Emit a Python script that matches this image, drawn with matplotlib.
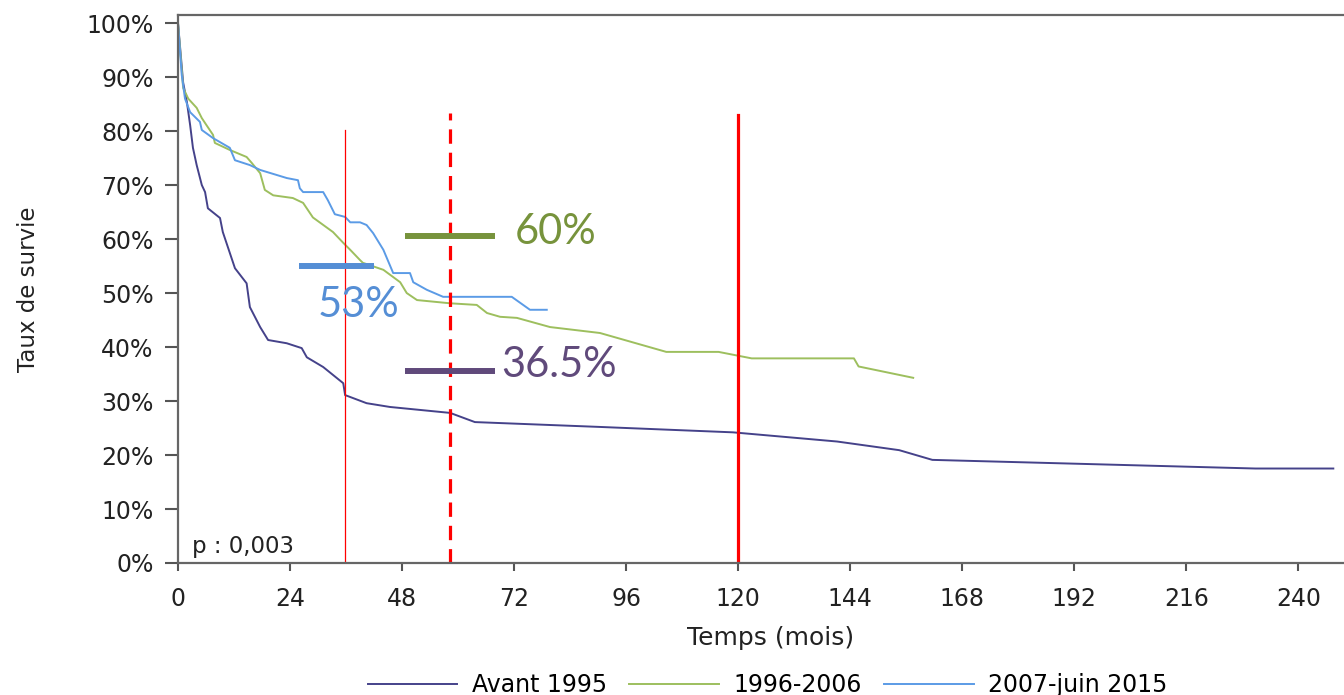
import matplotlib.pyplot as plt

# courbes de survie (mois, %)
avant_t = [0, 1.1, 1.9, 2.6, 3.2, 4.0, 5.1, 5.8, 6.4, 9.0, 9.6, 12.2, 14.7, 15.4, 17.6, 19.3,
           23.3, 26.5, 27.6, 31.1, 35.4, 35.8, 40.4, 45.4, 58.3, 63.6, 90.4, 118.9, 141.2,
           154.5, 161.6, 230.8, 247.5]
avant_s = [100, 89, 85.4, 81.1, 76.9, 73.7, 70, 68.7, 65.7, 63.9, 61.3, 54.6, 51.8, 47.4, 43.7,
           41.3, 40.7, 39.8, 38.1, 36.3, 33.3, 31.1, 29.6, 28.9, 27.8, 26.1, 25.2, 24.2, 22.5,
           20.9, 19.1, 17.5, 17.5]

mid_t = [0, 1.1, 2.2, 4.0, 5.1, 6.1, 7.5, 7.9, 11.1, 14.7, 15.8, 17.6, 18.6, 20.4, 24.6, 26.8,
         28.9, 33.2, 35.4, 36.9, 39.0, 39.6, 44.0, 47.6, 49.0, 51.2, 58.3, 64.0, 66.2, 69.0,
         72.6, 79.7, 90.4, 104.6, 115.8, 122.9, 144.8, 145.8, 157.5]
mid_s = [100, 88, 86, 84.3, 82.4, 81.1, 79.3, 77.8, 76.5, 75.2, 74.1, 72.2, 69.1, 68.1, 67.6,
         66.7, 64.0, 61.3, 59.3, 58, 56.1, 55.6, 54.3, 52, 50, 48.7, 48.1, 47.8, 46.3, 45.6,
         45.4, 43.7, 42.6, 39.1, 39.1, 37.9, 37.9, 36.4, 34.3]

rec_t = [0, 0.8, 1.5, 2.6, 4.7, 5.1, 7.5, 11.1, 12.2, 15.4, 17.6, 23.3, 25.7, 26.1, 26.8, 31.1,
         32.1, 33.6, 35.8, 36.9, 39.0, 40.4, 41.8, 44.0, 46.1, 49.7, 50.4, 53.3, 56.8, 71.5,
         75.4, 79.0]
rec_s = [100, 90.4, 86, 83.5, 81.7, 80.2, 78.7, 76.9, 74.6, 73.7, 72.8, 71.3, 70.9, 69.4, 68.7,
         68.7, 67.2, 64.6, 64.1, 63.1, 63.1, 62.6, 61.1, 58, 53.7, 53.7, 52, 50.6, 49.3, 49.3,
         46.9, 46.9]

labels = ['Avant 1995', '1996-2006', '2007-juin 2015']
couleurs = ['#45428a', '#9dbf5e', '#5b9be6']

fig = plt.figure(figsize=(13.44, 6.95), dpi=100)
ax = fig.add_axes([0.13244, 0.18993, 0.8676, 0.7885])

ax.plot(avant_t, avant_s, color=couleurs[0], lw=1.4, label=labels[0])
ax.plot(mid_t, mid_s, color=couleurs[1], lw=1.4, label=labels[1])
ax.plot(rec_t, rec_s, color=couleurs[2], lw=1.4, label=labels[2])

# reperes rouges
ax.plot([35.7, 35.7], [0, 80.2], color='red', lw=0.9)
ax.plot([58.3, 58.3], [0, 83.3], color='red', lw=2.3, dashes=(4.5, 2.8))
ax.plot([120, 120], [0, 83], color='red', lw=2.3)

# barres + pourcentages
ax.plot([48.6, 67.9], [60.6, 60.6], color='#77933c', lw=4.3, solid_capstyle='butt')
ax.plot([26, 42], [55.1, 55.1], color='#558ed5', lw=4.3, solid_capstyle='butt')
ax.plot([48.6, 67.9], [35.5, 35.5], color='#604a7b', lw=4.3, solid_capstyle='butt')
ax.text(72.2, 61.3, '60%', color='#77933c', fontsize=30, family='Lato', va='center')
ax.text(30, 47.8, '53%', color='#558ed5', fontsize=30, family='Lato', va='center')
ax.text(69.3, 36.7, '36.5%', color='#604a7b', fontsize=30, family='Lato', va='center')

ax.text(3, 3.1, 'p : 0,003', fontsize=16.5, color='#222', va='center')

ax.set_xlim(0, 249.8)
ax.set_ylim(0, 101.5)
ax.set_xticks(range(0, 241, 24))
ax.set_yticks(range(0, 101, 10))
ax.set_yticklabels([f'{v}%' for v in range(0, 101, 10)])
ax.tick_params(axis='y', length=9.5, width=1.5, pad=8, labelsize=17, colors='#555', labelcolor='#222')
ax.tick_params(axis='x', length=6, width=1.5, pad=11, labelsize=17, colors='#555', labelcolor='#222')

for s in ['left', 'bottom', 'top']:
    ax.spines[s].set_color('#666')
    ax.spines[s].set_linewidth(1.6)
ax.spines['right'].set_visible(False)

ax.set_xlabel('Temps (mois)', fontsize=18, color='#222')
ax.xaxis.set_label_coords(0.508, -0.115)
ax.set_ylabel('Taux de survie', fontsize=16.5, color='#222')
ax.yaxis.set_label_coords(-0.118, 0.5)

fig.legend(loc='center', bbox_to_anchor=(0.571, 1 - 685 / 695), ncol=3, frameon=False,
           fontsize=17, handlelength=3.8, handletextpad=0.6, columnspacing=0.95)

fig.savefig('out.png', dpi=100)
